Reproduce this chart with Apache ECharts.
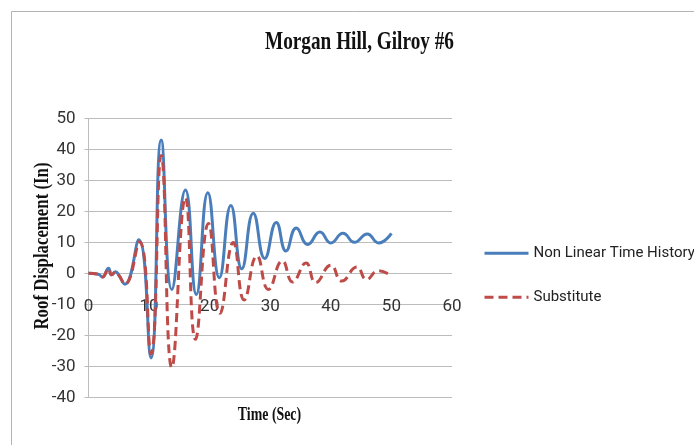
<!DOCTYPE html>
<html>
<head>
<meta charset="utf-8">
<script src="https://cdn.jsdelivr.net/npm/echarts@6/dist/echarts.min.js"></script>
<style>html,body{margin:0;padding:0;background:#fff;}#c{width:694px;height:445px;}</style>
</head>
<body>
<div id="c"></div>
<script>
var chartTitle = 'Morgan Hill, Gilroy #6';
var xTitle = 'Time (Sec)';
var yTitle = 'Roof Displacement (In)';
var seriesNames = ['Non Linear Time History', 'Substitute'];

var tNL = [0, 1.6, 2.3, 3.3, 3.8, 4.5, 5.0, 6.0, 8.3, 10.3, 12.0, 13.75, 16.0, 17.8, 19.7, 21.6, 23.5, 25.3, 27.2, 29.1, 31.0, 32.6, 34.3, 36.2, 38.2, 40.0, 42.0, 43.9, 46.0, 47.9, 50.0];
var vNL = [0, -0.3, -1.2, 1.6, -0.5, 0.5, -0.6, -3.5, 10.8, -27.3, 43.0, -5.2, 26.9, -6.8, 26.0, -1.4, 21.9, 1.5, 19.4, 4.8, 16.4, 7.2, 14.6, 9.3, 13.3, 9.8, 12.9, 10.0, 12.7, 9.8, 12.9];

var tSub = [0, 1.6, 2.3, 3.3, 3.8, 4.5, 5.0, 6.0, 8.4, 10.3, 12.0, 13.75, 16.0, 17.65, 19.8, 21.7, 23.9, 25.7, 27.8, 29.7, 32.0, 33.7, 35.9, 37.5, 40.0, 41.8, 44.3, 45.9, 47.8, 50.0];
var vSub = [0, -0.3, -1.2, 1.5, -0.5, 0.5, -0.6, -3.5, 10.2, -26.0, 38.0, -30.4, 24.4, -21.3, 16.1, -12.9, 9.9, -8.6, 5.6, -5.2, 4.0, -2.8, 3.3, -3.0, 2.6, -2.5, 2.0, -2.0, 0.8, -0.8];

var xMin = 0, xMax = 60, xStep = 10;
var yMin = -40, yMax = 50, yStep = 10;

function pairs(t, v) { return t.map(function (x, i) { return [x, v[i]]; }); }

var sans = "Roboto, 'Liberation Sans', sans-serif";
var serif = "'Liberation Serif', 'DejaVu Serif', serif";
var gridColor = '#bcbcbc';

var gridTop = 118.3, gridBottom = 47.7, chartH = 445;
var plotH = chartH - gridTop - gridBottom;
// move the x axis up to the zero line (labels sit below the zero line as in the reference)
var zeroFromBottom = plotH * (0 - yMin) / (yMax - yMin);

var chart = echarts.init(document.getElementById('c'), null, {renderer: 'canvas'});
chart.setOption({
  animation: false,
  backgroundColor: '#ffffff',
  grid: {left: 88.5, right: 242, top: gridTop, bottom: gridBottom, containLabel: false},
  xAxis: {
    type: 'value', min: xMin, max: xMax, interval: xStep,
    offset: -zeroFromBottom,
    axisLine: {show: false, onZero: false},
    axisTick: {show: false},
    splitLine: {show: false},
    axisLabel: {fontFamily: sans, fontSize: 17, color: '#333', margin: 25}
  },
  yAxis: {
    type: 'value', min: yMin, max: yMax, interval: yStep,
    axisLine: {show: true, onZero: false, lineStyle: {color: gridColor, width: 1}},
    axisTick: {show: true, length: 4, lineStyle: {color: gridColor}},
    splitLine: {show: true, lineStyle: {color: gridColor, width: 1}},
    axisLabel: {fontFamily: sans, fontSize: 17, color: '#333', margin: 13}
  },
  legend: {
    orient: 'vertical', left: 483, top: 245.7, padding: 0,
    itemWidth: 44, itemHeight: 14, itemGap: 29,
    itemStyle: {opacity: 0},
    lineStyle: {width: 3},
    textStyle: {fontFamily: sans, fontSize: 15, color: '#222'},
    data: seriesNames
  },
  graphic: [
    {type: 'rect', silent: true, shape: {x: 11.5, y: 11.5, width: 720, height: 460},
     style: {fill: 'none', stroke: '#b4b4b4', lineWidth: 1}},
    {type: 'text', x: 359.5, y: 42.5, scaleX: 0.77,
     style: {text: chartTitle, font: 'bold 25px ' + serif, fill: '#111', textAlign: 'center', textVerticalAlign: 'middle'}},
    {type: 'text', x: 269.5, y: 415, scaleX: 0.73,
     style: {text: xTitle, font: 'bold 19px ' + serif, fill: '#111', textAlign: 'center', textVerticalAlign: 'middle'}},
    {type: 'text', x: 43, y: 246, rotation: Math.PI / 2, scaleX: 0.84,
     style: {text: yTitle, font: 'bold 20px ' + serif, fill: '#111', textAlign: 'center', textVerticalAlign: 'middle'}}
  ],
  series: [
    {name: seriesNames[0], type: 'line', data: pairs(tNL, vNL), smooth: true, symbol: 'none',
     lineStyle: {color: '#4a7ebb', width: 3}, itemStyle: {color: '#4a7ebb'}},
    {name: seriesNames[1], type: 'line', data: pairs(tSub, vSub), smooth: true, symbol: 'none',
     lineStyle: {color: '#be4b48', width: 3, type: [9, 5]}, itemStyle: {color: '#be4b48'}}
  ]
});
</script>
</body>
</html>
